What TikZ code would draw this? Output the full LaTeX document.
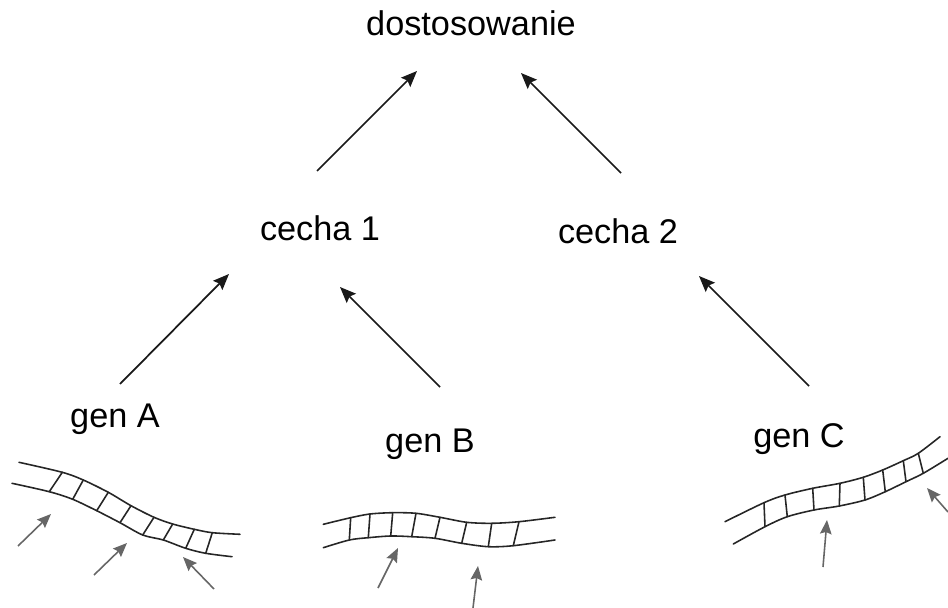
\documentclass[tikz,border=0pt]{standalone}
\usepackage{fontspec}
\setmainfont{Liberation Sans}
\usetikzlibrary{arrows.meta}

\begin{document}
\begin{tikzpicture}[x=0.02cm,y=-0.02cm,
    lbl/.style={font=\fontsize{19.5}{23}\selectfont,anchor=base,inner sep=0pt},
    traitArr/.style={-{Stealth[length=3.2mm,width=2.6mm,inset=0.5mm]},line width=1pt,black!90},
    snpArr/.style={-{Stealth[length=2.8mm,width=2.3mm,inset=0.4mm]},line width=0.9pt,black!60},
    strandLine/.style={line width=0.9pt,black!85,line cap=round},
]
\useasboundingbox (0,0) rectangle (948,608);
% Labels
\node[lbl] (dost) at (471,36) {dostosowanie};
\node[lbl] (c1) at (320,241) {cecha 1};
\node[lbl] (c2) at (618,244) {cecha 2};
\node[lbl] (gA) at (115,427) {gen A};
\node[lbl] (gB) at (430,452) {gen B};
\node[lbl] (gC) at (799,447) {gen C};
% Traits -> fitness
\draw[traitArr] ([shift={(-3,-70)}]c1.base) -- ([shift={(-54,35)}]dost.base);
\draw[traitArr] ([shift={(3,-71)}]c2.base) -- ([shift={(50,37)}]dost.base);
% Genes -> traits
\draw[traitArr] ([shift={(5,-43)}]gA.base) -- ([shift={(-91,33)}]c1.base);
\draw[traitArr] ([shift={(10,-65)}]gB.base) -- ([shift={(20,46)}]c1.base);
\draw[traitArr] ([shift={(10,-61)}]gC.base) -- ([shift={(81,32)}]c2.base);
% DNA strand A
\draw[strandLine] plot[smooth] coordinates {(19,462.3) (62.3,472.3) (83.3,480) (108.3,492.3) (131,505.7) (154,517.3) (172.7,524) (194.3,529.3) (212.3,532.7) (240,534.3)};
\draw[strandLine] plot[smooth] coordinates {(12,483.3) (49.3,491.7) (72.7,499.3) (96.7,510.7) (120,522.7) (142.7,535) (163.3,540) (185.7,548.3) (205.7,553.3) (232,556.7)};
\foreach \xa/\ya/\xb/\yb in {62.3/472.3/49.3/491.7, 83.3/480/72.7/499.3, 108.3/492.3/96.7/510.7, 131/505.7/120/522.7,
    154/517.3/142.7/535, 172.7/524/163.3/540, 194.3/529.3/185.7/548.3, 212.3/532.7/205.7/553.3}
  \draw[strandLine] (\xa,\ya) -- (\xb,\yb);
% DNA strand B
\draw[strandLine] plot[smooth] coordinates {(323.3,524.3) (350.7,517.7) (370,514) (392.7,512.7) (416,513.3) (440,517.3) (466.7,522.3) (491.7,523.3) (519,521.7) (555,517.3)};
\draw[strandLine] plot[smooth] coordinates {(323.3,547.7) (349.3,540) (368.3,537.7) (390.7,536) (411.7,536.7) (435,538.3) (461.7,543.3) (488.3,546.7) (513.3,545.7) (555,540)};
\foreach \xa/\ya/\xb/\yb in {350.7/517.7/349.3/540, 370/514/368.3/537.7, 392.7/512.7/390.7/536, 416/513.3/411.7/536.7,
    440/517.3/435/538.3, 466.7/522.3/461.7/543.3, 491.7/523.3/488.3/546.7, 519/521.7/513.3/545.7}
  \draw[strandLine] (\xa,\ya) -- (\xb,\yb);
% DNA strand C
\draw[strandLine] plot[smooth] coordinates {(725,521.7) (764,502.7) (785,495) (812.7,488.3) (840,483.3) (863.3,477.3) (882.7,470) (903.3,460.7) (918.3,453.3) (940,436.7)};
\draw[strandLine] plot[smooth] coordinates {(733.3,544) (765,526.7) (787.3,516.7) (814,510) (839.3,506) (865,500) (885.3,491.7) (906,481.7) (923.3,473.3) (948,458.3)};
\foreach \xa/\ya/\xb/\yb in {764/502.7/765/526.7, 785/495/787.3/516.7, 812.7/488.3/814/510, 840/483.3/839.3/506,
    863.3/477.3/865/500, 882.7/470/885.3/491.7, 903.3/460.7/906/481.7, 918.3/453.3/923.3/473.3}
  \draw[strandLine] (\xa,\ya) -- (\xb,\yb);
% Mutation sites
\draw[snpArr] (18,546) -- (51,514);
\draw[snpArr] (94,575) -- (127,543);
\draw[snpArr] (214,589) -- (183,557);
\draw[snpArr] (378,588) -- (398,548);
\draw[snpArr] (473,608) -- (478,566);
\draw[snpArr] (823,567) -- (827,520);
\draw[snpArr] (948,512) -- (927,488);
\end{tikzpicture}
\end{document}
